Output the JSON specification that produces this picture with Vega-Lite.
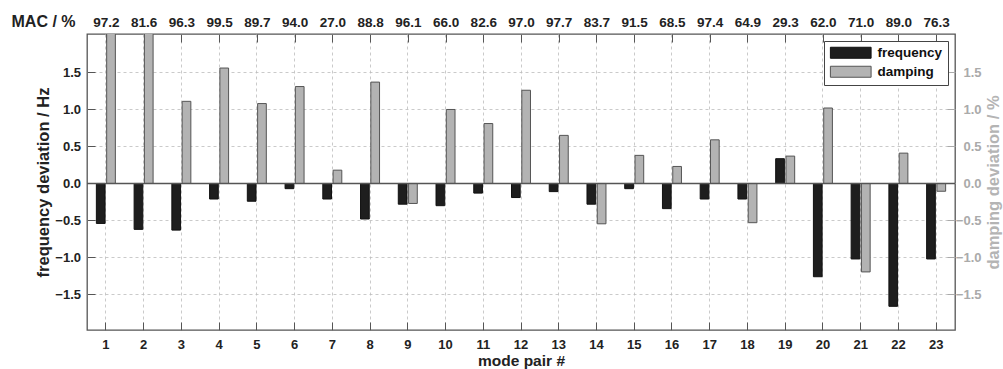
{
  "$schema": "https://vega.github.io/schema/vega-lite/v6.json",
  "autosize": "none",
  "width": 868,
  "height": 296,
  "padding": {"left": 87, "top": 34, "right": 48, "bottom": 39},
  "background": "white",
  "config": {
    "font": "Liberation Sans",
    "view": {"stroke": "#555555", "strokeWidth": 1.3},
    "axis": {
      "labelFont": "Liberation Sans",
      "labelFontWeight": "bold",
      "labelFontSize": 13,
      "labelColor": "#222222",
      "titleFont": "Liberation Sans",
      "titleFontWeight": "bold",
      "titleColor": "#222222",
      "domain": false,
      "gridColor": "#bdbdbd",
      "gridDash": [3, 3],
      "gridWidth": 0.8,
      "tickColor": "#555555",
      "tickWidth": 1,
      "tickSize": -8
    },
    "legend": {
      "orient": "top-right",
      "offset": 7,
      "strokeColor": "#444444",
      "fillColor": "white",
      "padding": 5,
      "symbolType": "M-3.7,-1H3.7V1H-3.7Z",
      "symbolSize": 121,
      "symbolOffset": 15,
      "labelOffset": 20,
      "labelFont": "Liberation Sans",
      "labelFontSize": 13.5,
      "labelFontWeight": "bold",
      "labelColor": "#111111",
      "rowPadding": 3,
      "symbolStrokeColor": "#333333",
      "symbolStrokeWidth": 1,
      "symbolOpacity": 1,
      "cornerRadius": 0
    }
  },
  "datasets": {
    "modes": [
      {"mode": 1, "MAC": "97.2", "frequency": -0.54, "damping": 2.6},
      {"mode": 2, "MAC": "81.6", "frequency": -0.62, "damping": 2.4},
      {"mode": 3, "MAC": "96.3", "frequency": -0.63, "damping": 1.11},
      {"mode": 4, "MAC": "99.5", "frequency": -0.21, "damping": 1.56},
      {"mode": 5, "MAC": "89.7", "frequency": -0.24, "damping": 1.08},
      {"mode": 6, "MAC": "94.0", "frequency": -0.07, "damping": 1.31},
      {"mode": 7, "MAC": "27.0", "frequency": -0.21, "damping": 0.18},
      {"mode": 8, "MAC": "88.8", "frequency": -0.48, "damping": 1.37},
      {"mode": 9, "MAC": "96.1", "frequency": -0.28, "damping": -0.27},
      {"mode": 10, "MAC": "66.0", "frequency": -0.30, "damping": 1.0},
      {"mode": 11, "MAC": "82.6", "frequency": -0.13, "damping": 0.81},
      {"mode": 12, "MAC": "97.0", "frequency": -0.19, "damping": 1.26},
      {"mode": 13, "MAC": "97.7", "frequency": -0.11, "damping": 0.65},
      {"mode": 14, "MAC": "83.7", "frequency": -0.28, "damping": -0.545},
      {"mode": 15, "MAC": "91.5", "frequency": -0.07, "damping": 0.38},
      {"mode": 16, "MAC": "68.5", "frequency": -0.34, "damping": 0.23},
      {"mode": 17, "MAC": "97.4", "frequency": -0.21, "damping": 0.59},
      {"mode": 18, "MAC": "64.9", "frequency": -0.21, "damping": -0.53},
      {"mode": 19, "MAC": "29.3", "frequency": 0.335, "damping": 0.37},
      {"mode": 20, "MAC": "62.0", "frequency": -1.26, "damping": 1.02},
      {"mode": 21, "MAC": "71.0", "frequency": -1.02, "damping": -1.195},
      {"mode": 22, "MAC": "89.0", "frequency": -1.66, "damping": 0.41},
      {"mode": 23, "MAC": "76.3", "frequency": -1.02, "damping": -0.105}
    ]
  },
  "data": {"name": "modes"},
  "layer": [
    {
      "transform": [{"fold": ["frequency", "damping"], "as": ["type", "value"]}],
      "mark": {"type": "bar", "clip": true, "strokeWidth": 1},
      "encoding": {
        "x": {
          "field": "mode",
          "type": "ordinal",
          "scale": {"paddingInner": 0, "paddingOuter": 0},
          "axis": {
            "orient": "bottom",
            "title": "mode pair #",
            "labelAngle": 0,
            "grid": true,
            "labelBaseline": "alphabetic",
            "labelPadding": 26,
            "titleFontSize": 15.5,
            "titleX": 434,
            "titleY": 35,
            "titleAlign": "center",
            "titleBaseline": "alphabetic"
          }
        },
        "xOffset": {
          "field": "type",
          "sort": ["frequency", "damping"],
          "scale": {"paddingInner": 0.155, "paddingOuter": 0.91}
        },
        "y": {
          "field": "value",
          "type": "quantitative",
          "scale": {"domain": [-1.98, 2.02], "nice": false, "zero": false},
          "axis": {
            "orient": "left",
            "title": "frequency deviation / Hz",
            "values": [-1.5, -1, -0.5, 0, 0.5, 1, 1.5],
            "format": ".1f",
            "grid": true,
            "labelPadding": 14.5,
            "titleFontSize": 16.5,
            "titleAngle": -90,
            "titleX": -39,
            "titleY": 148,
            "titleAlign": "center",
            "titleBaseline": "alphabetic"
          }
        },
        "fill": {
          "field": "type",
          "type": "nominal",
          "sort": ["frequency", "damping"],
          "scale": {"domain": ["frequency", "damping"], "range": ["#1e1e1e", "#b3b3b3"]},
          "legend": {"title": null}
        },
        "stroke": {
          "field": "type",
          "type": "nominal",
          "scale": {"domain": ["frequency", "damping"], "range": ["#111111", "#555555"]},
          "legend": null
        }
      }
    },
    {
      "data": {"values": [{}]},
      "mark": {"type": "rule", "color": "#555555", "strokeWidth": 1.3},
      "encoding": {
        "y": {
          "datum": 0,
          "type": "quantitative",
          "scale": {"domain": [-1.98, 2.02], "nice": false, "zero": false},
          "axis": {
            "orient": "right",
            "title": "damping deviation / %",
            "values": [-1.5, -1, -0.5, 0, 0.5, 1, 1.5],
            "format": ".1f",
            "grid": false,
            "labelColor": "#aaaaaa",
            "tickColor": "#aaaaaa",
            "labelAlign": "right",
            "labelPadding": 34,
            "titleColor": "#b4b4b4",
            "titleFontSize": 16.5,
            "titleAngle": -90,
            "titleX": 43.5,
            "titleY": 148,
            "titleAlign": "center",
            "titleBaseline": "alphabetic"
          }
        }
      }
    },
    {
      "mark": {"type": "point", "opacity": 0},
      "encoding": {
        "x": {
          "field": "MAC",
          "type": "nominal",
          "sort": null,
          "scale": {"paddingInner": 0, "paddingOuter": 0},
          "axis": {
            "orient": "top",
            "title": "MAC / %",
            "labelAngle": 0,
            "grid": false,
            "labelFontSize": 13.5,
            "labelBaseline": "alphabetic",
            "labelPadding": 16,
            "titleFontSize": 16,
            "titleAngle": 0,
            "titleX": -44,
            "titleY": -8,
            "titleAlign": "center",
            "titleBaseline": "alphabetic"
          }
        }
      }
    }
  ],
  "resolve": {"scale": {"x": "independent", "y": "independent"}}
}
